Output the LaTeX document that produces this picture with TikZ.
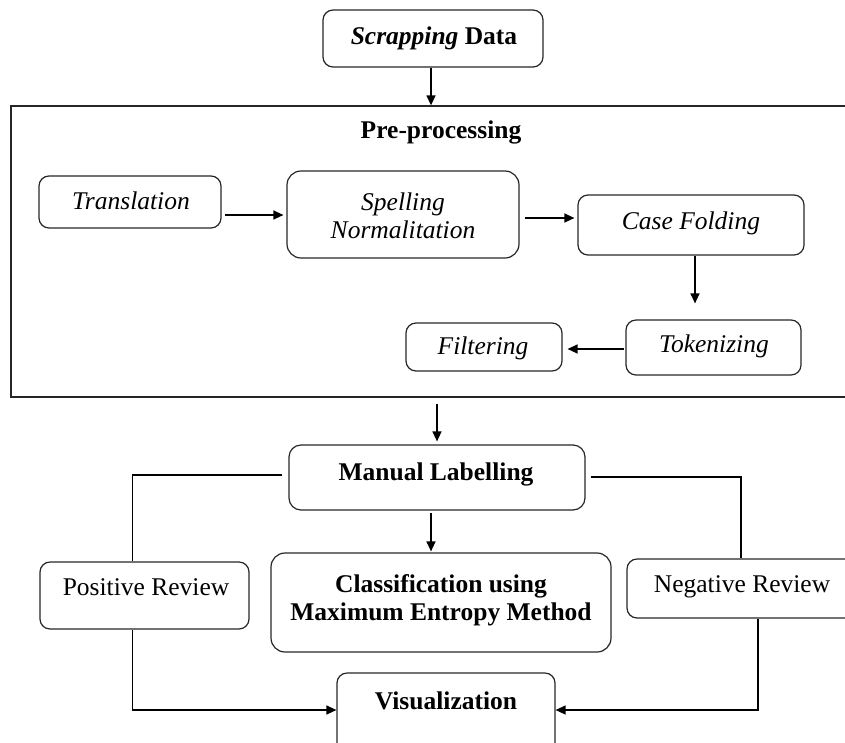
\documentclass[tikz,border=0pt]{standalone}
\usepackage{fontspec}
\setmainfont{Liberation Serif}
\usetikzlibrary{arrows.meta}
\begin{document}
\begin{tikzpicture}[x=1pt,y=1pt,
  fbox/.style={draw=black!85, line width=1.2pt, rounded corners=10pt, inner sep=0pt},
  txt/.style={font=\fontsize{25.5}{28}\selectfont, inner sep=0pt, text height=0.7em, text depth=0.2em, yshift=-5pt},
  txtm/.style={font=\fontsize{25.5}{28}\selectfont, inner sep=0pt, align=center, yshift=-3pt},
  arr/.style={-{Triangle[length=10pt,width=9pt]}, line width=1.3pt},
  ln/.style={line width=1.3pt}]
\useasboundingbox (0,0) rectangle (845,-742);
\clip (0,0) rectangle (845,-742);
% boxes
\node[fbox, minimum width=220pt, minimum height=57pt] (scrap) at (433,-38.5) {};
\node[draw=black!85, line width=1.3pt, inner sep=0pt, minimum width=849pt, minimum height=291pt] (pre) at (435.5,-251.5) {};
\node[fbox, minimum width=182pt, minimum height=52pt] (trans) at (130,-202) {};
\node[fbox, rounded corners=14pt, minimum width=232pt, minimum height=87pt] (spell) at (403,-214.5) {};
\node[fbox, minimum width=226pt, minimum height=60pt] (case) at (691,-225) {};
\node[fbox, minimum width=175pt, minimum height=55pt] (tok) at (713.5,-347.5) {};
\node[fbox, minimum width=156pt, minimum height=48pt] (filt) at (484,-347) {};
\node[fbox, rounded corners=12pt, minimum width=296pt, minimum height=65pt] (ml) at (437,-477.5) {};
\node[fbox, rounded corners=14pt, minimum width=340pt, minimum height=99pt] (cls) at (441,-602.5) {};
\node[fbox, minimum width=209pt, minimum height=67pt] (pos) at (144.5,-595.5) {};
\node[fbox, minimum width=233pt, minimum height=59pt] (neg) at (743.5,-588.5) {};
\node[fbox, minimum width=218pt, minimum height=82pt] (vis) at (446,-714) {};
% texts
\node[txt] (scrapT) at (434,-37) {\textbf{\textit{Scrapping}} \textbf{Data}};
\node[txt] (preT) at (441,-131) {\textbf{Pre-processing}};
\node[txt] (transT) at (131,-202) {\textit{Translation}};
\node[txtm] (spellT) at (403,-213) {\textit{Spelling}\\\textit{Normalitation}};
\node[txt] (caseT) at (691,-222) {\textit{Case Folding}};
\node[txt] (tokT) at (714,-345) {\textit{Tokenizing}};
\node[txt] (filtT) at (483,-347) {\textit{Filtering}};
\node[txt] (mlT) at (436,-473) {\textbf{Manual Labelling}};
\node[txtm] (clsT) at (441,-597) {\textbf{Classification using}\\\textbf{Maximum Entropy Method}};
\node[txt] (posT) at (146,-588) {Positive Review};
\node[txt] (negT) at (742,-585) {Negative Review};
\node[txt] (visT) at (446,-702) {\textbf{Visualization}};
% connectors
\draw[arr] ([xshift=-2pt]scrap.south) -- ([xshift=-2pt]scrap.south |- pre.north);
\draw[arr, shorten <=3pt, shorten >=3pt] ([yshift=-13pt]trans.east) -- ([yshift=-13pt]trans.east -| spell.west);
\draw[arr, shorten <=5pt, shorten >=3pt] ([yshift=-3.5pt]spell.east) -- ([yshift=-3.5pt]spell.east -| case.west);
\draw[arr, shorten >=16pt] ([xshift=4pt]case.south) -- ([xshift=4pt]case.south |- tok.north);
\draw[arr, shorten <=1pt, shorten >=5pt] ([yshift=-1.5pt]tok.west) -- ([yshift=-1.5pt]tok.west -| filt.east);
\draw[arr, shorten <=6pt, shorten >=3pt] (ml.north |- pre.south) -- (ml.north);
\draw[arr, shorten <=2pt, shorten >=1pt] ([xshift=-6pt]ml.south) -- ([xshift=-6pt]ml.south |- cls.north);
\draw[ln] ([shift={(-6pt,2.5pt)}]ml.west) -| ([xshift=-12pt]pos.north);
\draw[ln] ([shift={(5pt,0.5pt)}]ml.east) -| ([xshift=-2.5pt]neg.north);
\draw[arr] ([xshift=-12pt]pos.south) |- ([yshift=4pt]vis.west);
\draw[arr] ([xshift=14.5pt]neg.south) |- ([yshift=4pt]vis.east);
\end{tikzpicture}
\end{document}
